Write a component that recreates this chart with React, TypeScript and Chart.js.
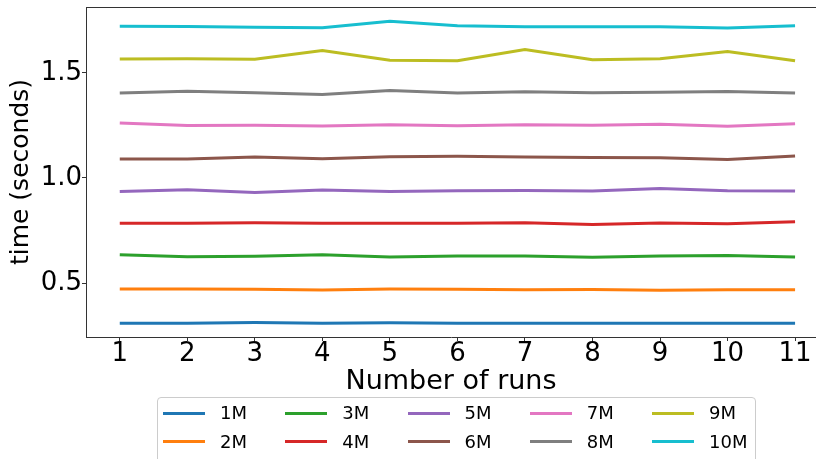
import React, { useEffect, useRef } from "react";
import { Chart, registerables } from "chart.js";

Chart.register(...registerables);

const runs = [1, 2, 3, 4, 5, 6, 7, 8, 9, 10, 11];
const seriesNames = ["1M", "2M", "3M", "4M", "5M", "6M", "7M", "8M", "9M", "10M"];
const s1M = [0.308, 0.309, 0.312, 0.309, 0.311, 0.309, 0.309, 0.309, 0.308, 0.309, 0.308];
const s2M = [0.472, 0.471, 0.470, 0.467, 0.471, 0.470, 0.468, 0.469, 0.466, 0.468, 0.468];
const s3M = [0.634, 0.625, 0.628, 0.634, 0.624, 0.629, 0.629, 0.623, 0.629, 0.631, 0.624];
const s4M = [0.785, 0.785, 0.787, 0.785, 0.785, 0.785, 0.787, 0.779, 0.786, 0.782, 0.792];
const s5M = [0.936, 0.944, 0.931, 0.943, 0.936, 0.939, 0.940, 0.938, 0.950, 0.939, 0.938];
const s6M = [1.090, 1.090, 1.100, 1.092, 1.101, 1.103, 1.100, 1.097, 1.096, 1.088, 1.105];
const s7M = [1.262, 1.250, 1.251, 1.248, 1.253, 1.249, 1.254, 1.251, 1.256, 1.246, 1.258];
const s8M = [1.405, 1.413, 1.406, 1.397, 1.416, 1.404, 1.410, 1.406, 1.408, 1.412, 1.405];
const s9M = [1.567, 1.568, 1.565, 1.607, 1.560, 1.558, 1.612, 1.563, 1.568, 1.602, 1.558];
const s10M = [1.722, 1.721, 1.718, 1.715, 1.746, 1.725, 1.720, 1.720, 1.720, 1.714, 1.725];
const seriesValues = [s1M, s2M, s3M, s4M, s5M, s6M, s7M, s8M, s9M, s10M];
const colors = [
  "#1f77b4", "#ff7f0e", "#2ca02c", "#d62728", "#9467bd",
  "#8c564b", "#e377c2", "#7f7f7f", "#bcbd22", "#17becf",
];
const xTicks = [1, 2, 3, 4, 5, 6, 7, 8, 9, 10, 11];
const yTicks = [0.5, 1.0, 1.5];

const FONT = "'DejaVu Sans', sans-serif";

const framePlugin = {
  id: "frameTop",
  afterDraw(chart: any) {
    const { ctx, chartArea } = chart;
    ctx.save();
    ctx.strokeStyle = "#333333";
    ctx.lineWidth = 1;
    ctx.beginPath();
    ctx.moveTo(chartArea.left, chartArea.top + 0.5);
    ctx.lineTo(chartArea.right, chartArea.top + 0.5);
    ctx.stroke();
    ctx.restore();
  },
};

export default function App() {
  const canvasRef = useRef<HTMLCanvasElement | null>(null);

  useEffect(() => {
    if (!canvasRef.current) return;
    const chart = new Chart(canvasRef.current, {
      type: "line",
      data: {
        datasets: seriesNames.map((name, i) => ({
          label: name,
          data: runs.map((r, j) => ({ x: r, y: seriesValues[i][j] })),
          borderColor: colors[i],
          backgroundColor: colors[i],
          borderWidth: 3,
          pointRadius: 0,
          tension: 0,
          fill: false,
        })),
      },
      options: {
        animation: false,
        responsive: false,
        maintainAspectRatio: false,
        layout: { padding: { top: 7, right: 0, left: 0, bottom: 0 } },
        plugins: {
          legend: { display: false },
          tooltip: { enabled: false },
        },
        scales: {
          x: {
            type: "linear",
            min: 0.5,
            max: 11.31,
            afterBuildTicks: (axis: any) => {
              axis.ticks = xTicks.map((v) => ({ value: v }));
            },
            afterFit: (scale: any) => {
              scale.height = 122;
              scale.paddingLeft = 0;
              scale.paddingRight = 0;
            },
            grid: {
              display: true,
              drawOnChartArea: false,
              drawTicks: true,
              tickLength: 4,
              tickColor: "#333333",
              tickWidth: 1,
            },
            border: { display: true, color: "#333333", width: 1 },
            ticks: {
              color: "#000000",
              font: { family: FONT, size: 26, lineHeight: 1.0 },
              padding: 0,
              maxRotation: 0,
              autoSkip: false,
              callback: (v: any) => String(v),
            },
            title: {
              display: true,
              text: "Number of runs",
              color: "#000000",
              font: { family: FONT, size: 27, lineHeight: 1.2 },
              padding: { top: 0, bottom: 61 },
            },
          },
          y: {
            type: "linear",
            min: 0.243,
            max: 1.814,
            afterBuildTicks: (axis: any) => {
              axis.ticks = yTicks.map((v) => ({ value: v }));
            },
            afterFit: (scale: any) => {
              scale.width = 86;
              scale.paddingTop = 0;
              scale.paddingBottom = 0;
            },
            grid: {
              display: true,
              drawOnChartArea: false,
              drawTicks: true,
              tickLength: 4,
              tickColor: "#333333",
              tickWidth: 1,
            },
            border: { display: true, color: "#333333", width: 1 },
            ticks: {
              color: "#000000",
              font: { family: FONT, size: 26, lineHeight: 1.0 },
              padding: 0,
              autoSkip: false,
              callback: (v: any) => Number(v).toFixed(1),
            },
            title: {
              display: true,
              text: "time (seconds)",
              color: "#000000",
              font: { family: FONT, size: 25, lineHeight: 1.2 },
              padding: { top: 6, bottom: 0 },
            },
          },
        },
      },
      plugins: [framePlugin],
    });
    return () => chart.destroy();
  }, []);

  return (
    <div
      style={{
        position: "fixed",
        left: 0,
        top: 0,
        width: 816,
        height: 459,
        overflow: "hidden",
        background: "#ffffff",
      }}
    >
      <canvas ref={canvasRef} width={816} height={459} style={{ display: "block" }} />
      <div
        style={{
          position: "absolute",
          left: 157,
          top: 397,
          width: 599,
          height: 80,
          boxSizing: "border-box",
          border: "1px solid #cccccc",
          borderRadius: 4,
          background: "rgba(255,255,255,0.8)",
          paddingLeft: 5,
          paddingTop: 1,
          display: "grid",
          gridAutoFlow: "column",
          gridTemplateRows: "repeat(2, 28.5px)",
          gridTemplateColumns: "repeat(5, 122.25px)",
          fontFamily: FONT,
          fontSize: 18,
          color: "#000000",
        }}
      >
        {seriesNames.map((name, i) => (
          <div key={name} style={{ display: "flex", alignItems: "center" }}>
            <span
              style={{
                display: "inline-block",
                width: 42,
                height: 3,
                background: colors[i],
                marginRight: 15,
                flexShrink: 0,
              }}
            />
            <span style={{ lineHeight: "20px" }}>{name}</span>
          </div>
        ))}
      </div>
    </div>
  );
}
